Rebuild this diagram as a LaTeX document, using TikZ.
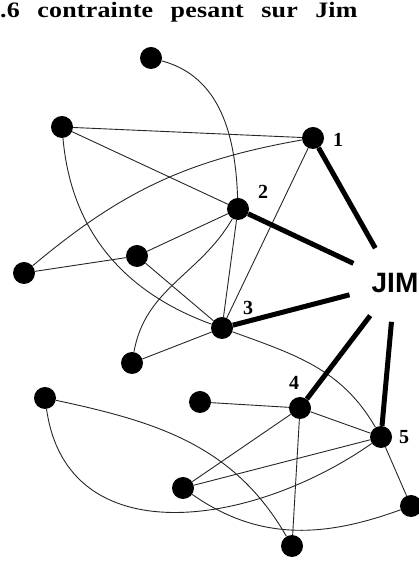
\documentclass[tikz,border=0pt]{standalone}
\usepackage{fontspec}
\setmainfont{Liberation Serif}
\newfontfamily\titlefont{Liberation Serif Bold}[FakeStretch=1.18,LetterSpace=1,WordSpace=2.6]
\newfontfamily\numfont{Liberation Serif Bold}
\newfontfamily\jimfont{Liberation Sans Bold}
\usepackage{tikz}
\usetikzlibrary{positioning}

\begin{document}
\begin{tikzpicture}[x=1pt, y=1pt,
    dot/.style={circle, fill=black, inner sep=0pt, minimum size=22pt},
    tie/.style={line width=0.9pt, black!85},
    strong/.style={line width=5pt, black},
    num/.style={font=\numfont\fontsize{20}{20}\selectfont, inner sep=0pt}
  ]
    \useasboundingbox (0,0) rectangle (418,561);

    % --- TITLE ---
    \node[anchor=base west, inner sep=0pt, font=\titlefont\fontsize{22}{22}\selectfont] (title) at (0,543) {.6 contrainte pesant sur Jim};

    % --- PEOPLE ---
    \node[dot] (a) at (151,503) {};
    \node[dot] (b) at (62,434) {};
    \node[dot] (c) at (24,288) {};
    \node[dot] (d) at (137,305) {};
    \node[dot] (e) at (132,198) {};
    \node[dot] (f) at (45,163) {};
    \node[dot] (g) at (200,159) {};
    \node[dot] (h) at (183,73) {};
    \node[dot] (i) at (411,55) {};
    \node[dot] (j) at (292,15) {};

    \node[dot] (n1) at (313,423) {};
    \node[dot] (n2) at (238,352) {};
    \node[dot] (n3) at (222,233) {};
    \node[dot] (n4) at (300,153) {};
    \node[dot] (n5) at (381,124) {};

    \node[num] (l1) at (338,421) {1};
    \node[num] (l2) at (263,369) {2};
    \node[num] (l3) at (248,253) {3};
    \node[num] (l4) at (294,178) {4};
    \node[num] (l5) at (404,124) {5};

    \node[inner sep=0pt, font=\jimfont\fontsize{28}{28}\selectfont] (jim) at (395,278) {JIM};

    % --- THIN TIES ---
    \draw[tie] (b) -- (n1);
    \draw[tie] (b) -- (n2);
    \draw[tie] (n1) -- (n3);
    \draw[tie] (n2) -- (d);
    \draw[tie] (n2) -- (n3);
    \draw[tie] (d) -- (c);
    \draw[tie] (d) -- (n3);
    \draw[tie] (n3) -- (e);
    \draw[tie] (g) -- (n4);
    \draw[tie] (h) -- (n4);
    \draw[tie] (h) -- (n5);
    \draw[tie] (n4) -- (n5);
    \draw[tie] (n4) -- (j);
    \draw[tie] (n5) -- (i);

    \draw[tie] (a) to[out=-15, in=92] (n2);
    \draw[tie] (b) to[out=-85, in=160] (n3);
    \draw[tie] (n1) to[out=190, in=40] (c);
    \draw[tie] (n2) to[out=240, in=80] (e);
    \draw[tie] (n3) to[out=-20, in=120] (n5);
    \draw[tie] (f) to[out=-12, in=120] (j);
    \draw[tie] (f) to[out=-82, in=215, looseness=1.15] (n5);
    \draw[tie] (h) to[out=-35, in=200] (i);

    % --- TIES TO JIM ---
    \draw[strong, shorten >=40pt] (n1) -- (jim.center);
    \draw[strong, shorten >=46pt] (n2) -- (jim.center);
    \draw[strong, shorten >=47pt] (n3) -- (jim.center);
    \draw[strong, shorten >=41pt] (n4) -- (jim.center);
    \draw[strong, shorten >=39pt] (n5) -- (jim.center);
  \end{tikzpicture}
\end{document}
